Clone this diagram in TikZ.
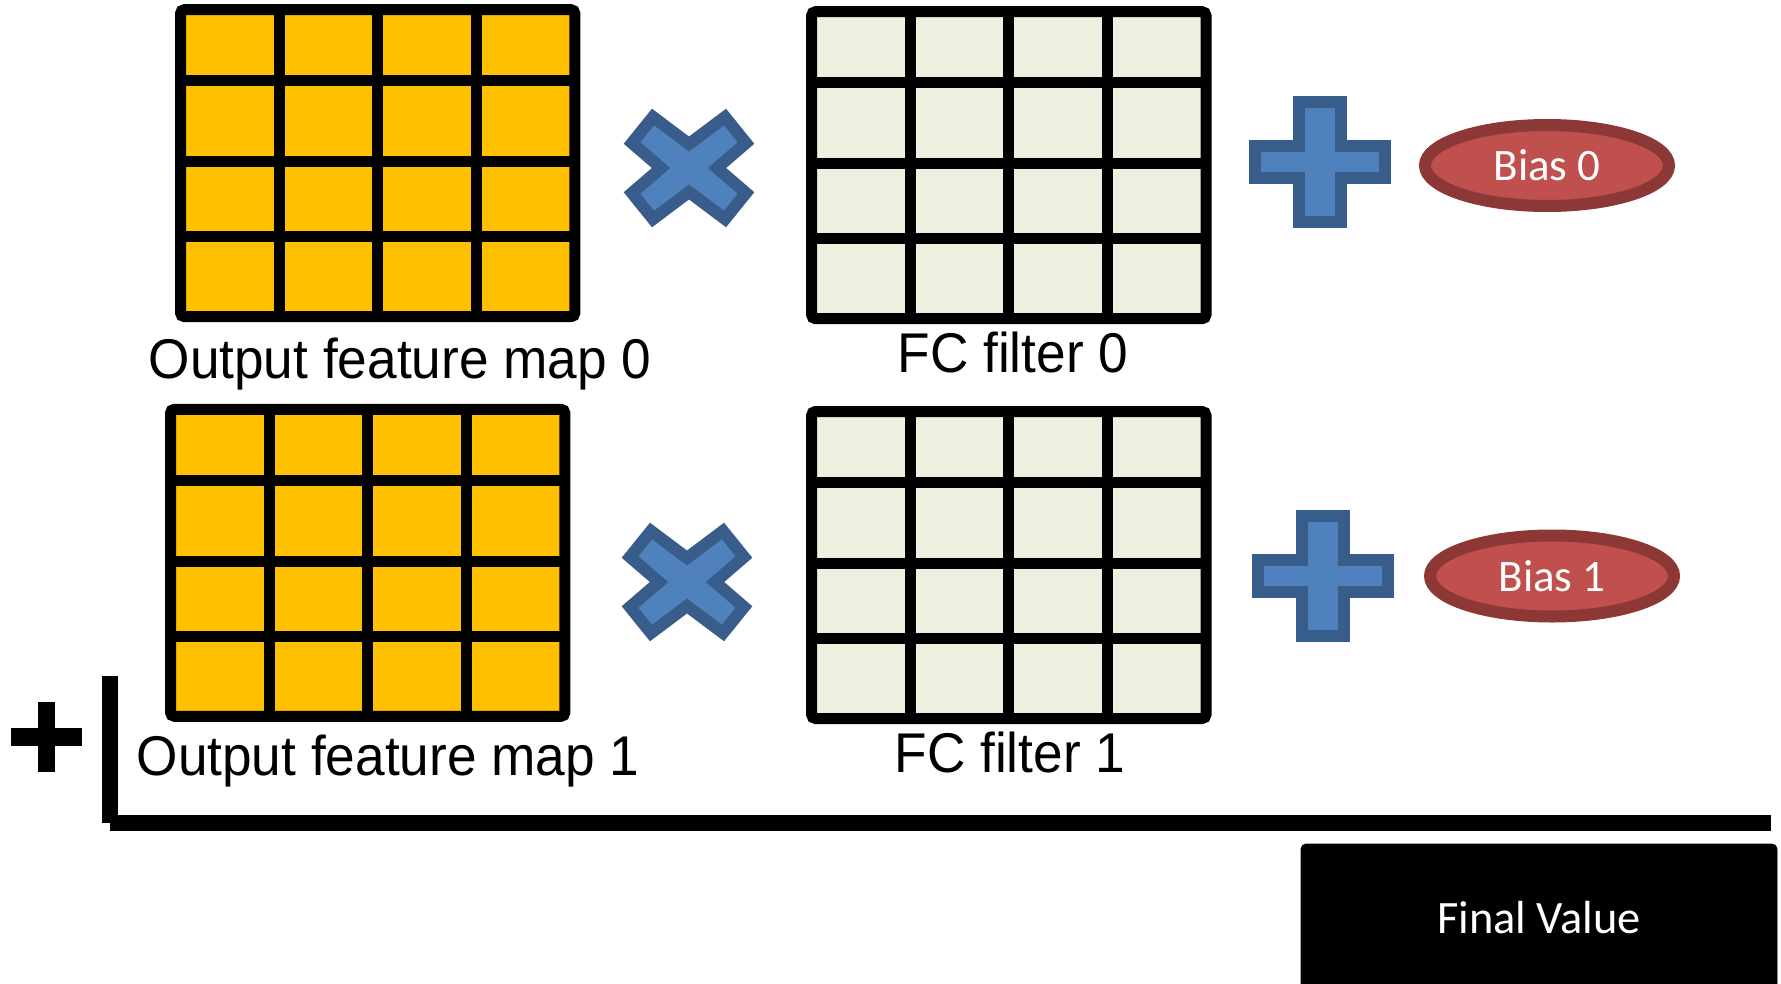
\documentclass[tikz,border=0pt]{standalone}
\usepackage{fontspec}
\usepackage{tikz}
\usetikzlibrary{calc,shapes.geometric}

\newfontfamily\mapfont{Liberation Sans}[FakeStretch=0.95]
\newfontfamily\boxfont{Carlito}

\definecolor{mapyellow}{HTML}{FFC000}
\definecolor{filtergreen}{HTML}{EBF1DE}
\definecolor{opfill}{HTML}{4F81BD}
\definecolor{opline}{HTML}{385D8A}
\definecolor{biasfill}{HTML}{C0504D}
\definecolor{biasline}{HTML}{8C3836}

% 4x4 table: name, top left corner, fill colour
\newcommand{\cellgrid}[3]{%
	\node[gridbox, fill=#3, anchor=north west] (#1) at #2 {};
	\foreach \dx in {98.6,197.2,295.8}
		\draw[gridline] ($(#1.north west)+(\dx,0)$) -- ($(#1.south west)+(\dx,0)$);
	\foreach \dy in {71,152,227}
		\draw[gridline] ($(#1.north west)+(0,\dy)$) -- ($(#1.north east)+(0,\dy)$);
}

% multiply sign: name, centre
\newcommand{\timesmark}[2]{%
	\coordinate (#1) at #2;
	\draw[opmark, shift={#2}] (-36,-51) -- (0,-24) -- (36,-51) -- (57,-25) -- (28,0) -- (57,25)
		-- (36,51) -- (0,24) -- (-36,51) -- (-57,25) -- (-28,0) -- (-57,-25) -- cycle;
}

% plus sign: name, centre
\newcommand{\plusmark}[2]{%
	\coordinate (#1) at #2;
	\draw[opmark, shift={#2}] (-21,-60) -- (21,-60) -- (21,-16) -- (65,-16) -- (65,16) -- (21,16)
		-- (21,60) -- (-21,60) -- (-21,16) -- (-65,16) -- (-65,-16) -- (-21,-16) -- cycle;
}

\begin{document}
\begin{tikzpicture}[x=0.5pt, y=-0.5pt,
	gridbox/.style={draw=black, line width=5.5pt, rounded corners=2pt, minimum width=197.2pt,
		minimum height=153.5pt, inner sep=0pt, outer sep=0pt},
	gridline/.style={black, line width=5.5pt},
	opmark/.style={draw=opline, fill=opfill, line width=6pt},
	bias/.style={ellipse, draw=biasline, fill=biasfill, line width=6pt, minimum width=122pt,
		minimum height=40.5pt, inner sep=0pt, text=white, font={\boxfont\fontsize{22.5pt}{27pt}\selectfont}},
	maplabel/.style={anchor=base, font={\mapfont\fontsize{28pt}{34pt}\selectfont}},
	sumline/.style={black, line width=8pt},
	finalbox/.style={draw=black, fill=black, rounded corners=2.5pt, minimum width=238pt,
		minimum height=74pt, inner sep=0pt, text=white, font={\boxfont\fontsize{23.2pt}{28pt}\selectfont}}]
	\clip (0,0) rectangle (1781,984);

	% feature maps and FC filters
	\cellgrid{map0}{(180.5,9.7)}{mapyellow}
	\cellgrid{filter0}{(811.6,11.7)}{filtergreen}
	\cellgrid{map1}{(170.5,409.3)}{mapyellow}
	\cellgrid{filter1}{(811.6,411.5)}{filtergreen}

	\node[maplabel] (map0 label) at (400,378) {Output feature map 0};
	\node[maplabel] (filter0 label) at (1013,372) {FC filter 0};
	\node[maplabel] (map1 label) at (388,775) {Output feature map 1};
	\node[maplabel] (filter1 label) at (1010,772) {FC filter 1};

	% operators and biases
	\timesmark{times0}{(689,168)}
	\timesmark{times1}{(687,582)}
	\plusmark{plus0}{(1320,162)}
	\plusmark{plus1}{(1323,576)}

	\node[bias] (bias0) at (1547,165.5) {Bias 0};
	\node[bias] (bias1) at (1552,576) {Bias 1};

	% sum of both rows
	\fill (11,728) rectangle (82,746);
	\fill (38,702) rectangle (55,772);
	\coordinate (sumtop) at (110,676);
	\coordinate (sumcorner) at (110,823);
	\coordinate (sumend) at (1771,823);
	\draw[sumline] (sumtop) -- (sumcorner);
	\draw[sumline] (sumcorner) -- (sumend);

	\node[finalbox] (final) at (1539,918) {Final Value};
\end{tikzpicture}
\end{document}
